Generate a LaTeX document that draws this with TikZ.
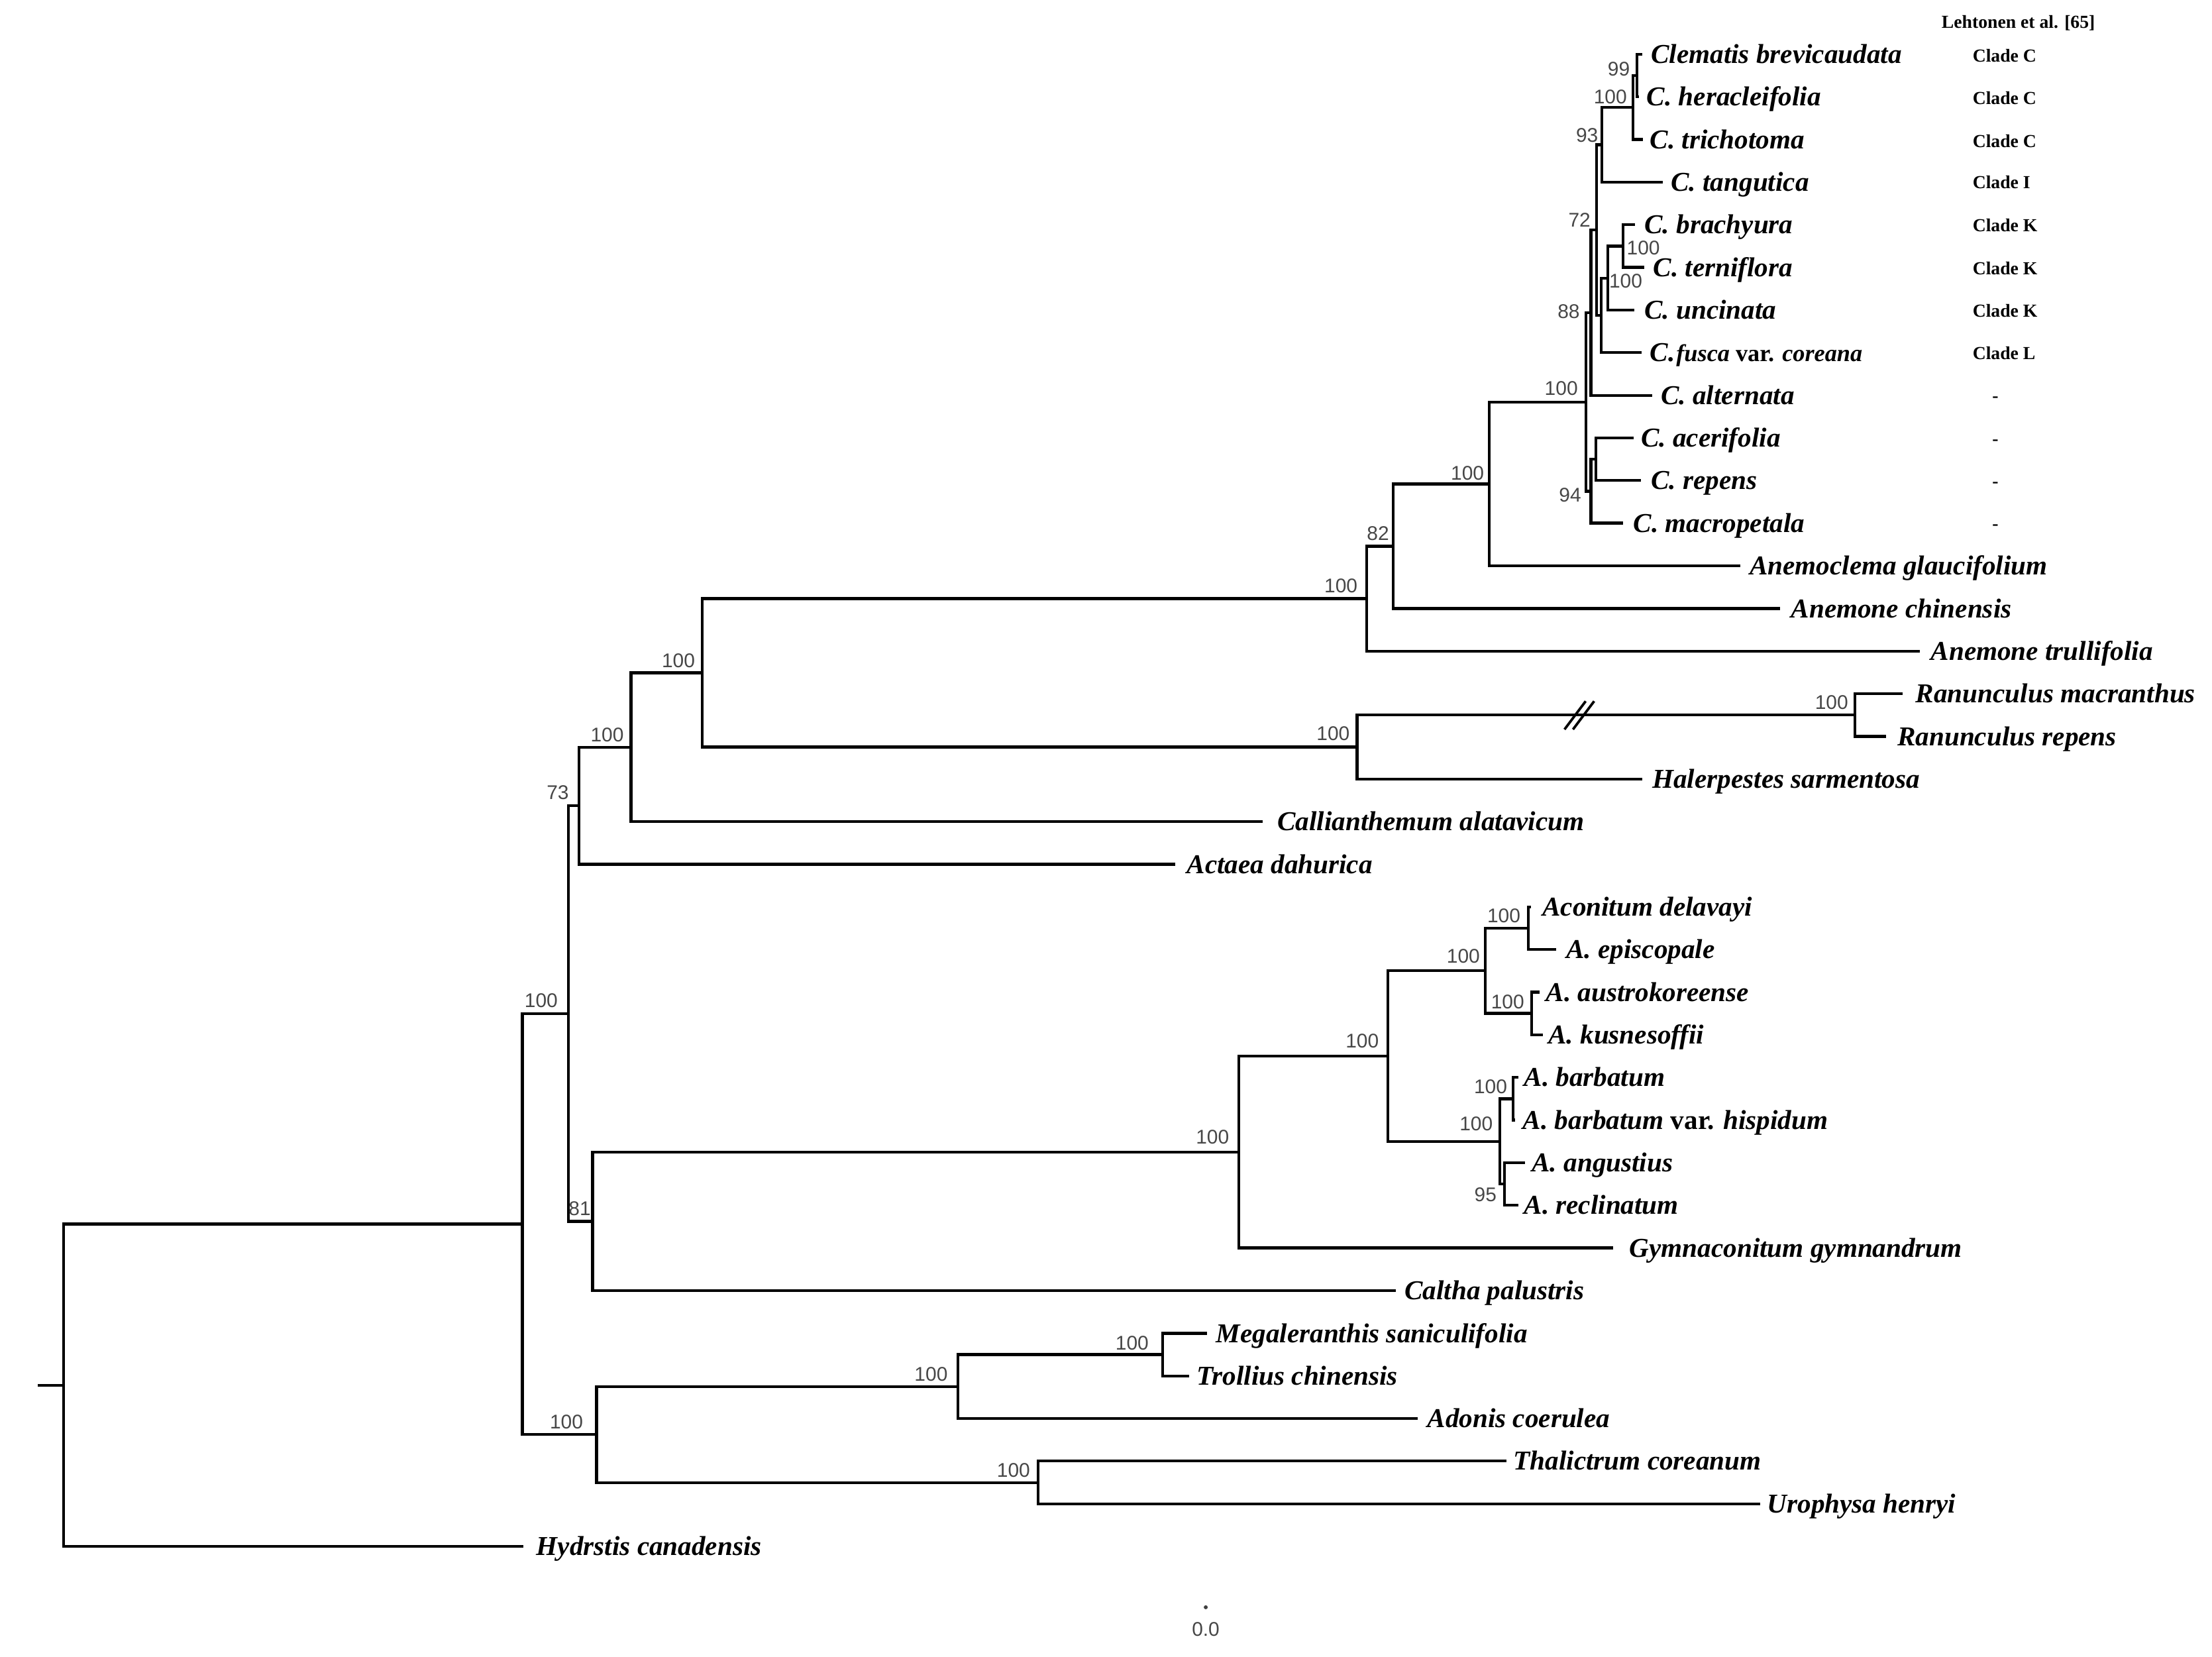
\documentclass[tikz,border=0pt]{standalone}
\usepackage{fontspec}
\setmainfont{Liberation Serif}
\newfontfamily\bsfont{Liberation Sans}
\begin{document}
\begin{tikzpicture}[x=0.02cm, y=-0.02cm,
  br/.style={line width=1.15pt, line cap=rect},
  sp/.style={anchor=west, inner sep=0pt, font=\fontsize{11pt}{13pt}\selectfont\bfseries\itshape, text height=7.3pt, text depth=0pt},
  bs/.style={inner sep=0pt, font=\bsfont\fontsize{8pt}{9pt}\selectfont, text=black!72, text height=5.73pt, text depth=0pt},
  cl/.style={anchor=west, inner sep=0pt, font=\fontsize{7.4pt}{9pt}\selectfont\bfseries, text height=4.9pt, text depth=0pt},
  brk/.style={line width=1pt}]
\useasboundingbox (0,0) rectangle (1568,1174);
% internal nodes
\coordinate (root) at (45, 981.9);
\coordinate (r0) at (28, 981.9);
\coordinate (A) at (370.3, 867.6);
\coordinate (B) at (402.8, 718.4);
\coordinate (C) at (410.5, 571.1);
\coordinate (D) at (447.3, 529.6);
\coordinate (E) at (497.8, 476.9);
\coordinate (F) at (968.8, 424.3);
\coordinate (K) at (987.7, 387.2);
\coordinate (L) at (1055.5, 343);
\coordinate (M) at (1124.3, 284.9);
\coordinate (O) at (1127.8, 221.6);
\coordinate (P) at (1131.7, 163.1);
\coordinate (R) at (1135.6, 102.6);
\coordinate (S) at (1157.6, 76.2);
\coordinate (T) at (1160.3, 53.5);
\coordinate (Q) at (1134.9, 223.5);
\coordinate (U) at (1139.8, 197.1);
\coordinate (V) at (1150.5, 174.4);
\coordinate (N) at (1127.8, 348.2);
\coordinate (W) at (1131.4, 325.5);
\coordinate (G) at (962, 529.5);
\coordinate (X) at (1315, 506.8);
\coordinate (H) at (420, 865.7);
\coordinate (I) at (878, 816.5);
\coordinate (J) at (983.8, 748.6);
\coordinate (Y) at (1052.8, 688.1);
\coordinate (AA) at (1083.5, 657.9);
\coordinate (AB) at (1085.6, 718.3);
\coordinate (Z) at (1063.3, 809);
\coordinate (AC) at (1072.5, 778.8);
\coordinate (AD) at (1066.5, 839.2);
\coordinate (AE) at (824, 960.1);
\coordinate (AF) at (678.9, 982.8);
\coordinate (AG) at (735.8, 1050.8);
\coordinate (AH) at (422.8, 1016.8);
% tips
\coordinate (t1) at (1163, 38.4);
\coordinate (t2) at (1161, 68.6);
\coordinate (t3) at (1163.8, 98.8);
\coordinate (t4) at (1177.9, 129.1);
\coordinate (t5) at (1158, 159.3);
\coordinate (t6) at (1164.6, 189.5);
\coordinate (t7) at (1157.6, 219.7);
\coordinate (t8) at (1162.8, 249.9);
\coordinate (t9) at (1170, 280.2);
\coordinate (t10) at (1156.8, 310.4);
\coordinate (t11) at (1162.2, 340.6);
\coordinate (t12) at (1149.3, 370.8);
\coordinate (t13) at (1232.7, 401.0);
\coordinate (t14) at (1261, 431.3);
\coordinate (t15) at (1359.8, 461.5);
\coordinate (t16) at (1347.7, 491.7);
\coordinate (t17) at (1336, 521.9);
\coordinate (t18) at (1163, 552.1);
\coordinate (t19) at (894, 582.4);
\coordinate (t20) at (832, 612.6);
\coordinate (t21) at (1084, 642.8);
\coordinate (t22) at (1102, 673.0);
\coordinate (t23) at (1090.3, 703.2);
\coordinate (t24) at (1092.6, 733.4);
\coordinate (t25) at (1075.4, 763.7);
\coordinate (t26) at (1073, 793.9);
\coordinate (t27) at (1080, 824.1);
\coordinate (t28) at (1075.4, 854.3);
\coordinate (t29) at (1142.6, 884.5);
\coordinate (t30) at (988.3, 914.8);
\coordinate (t31) at (854.8, 945.0);
\coordinate (t32) at (842, 975.2);
\coordinate (t33) at (1004, 1005.4);
\coordinate (t34) at (1066.7, 1035.6);
\coordinate (t35) at (1246.6, 1065.9);
\coordinate (t36) at (370, 1096.1);
% branches
\draw[br] (r0) -- (root);
\draw[br] (root) |- (A); \draw[br] (root) |- (t36);
\draw[br] (A) |- (B); \draw[br] (A) |- (AH);
\draw[br] (B) |- (C); \draw[br] (B) |- (H);
\draw[br] (C) |- (D); \draw[br] (C) |- (t20);
\draw[br] (D) |- (E); \draw[br] (D) |- (t19);
\draw[br] (E) |- (F); \draw[br] (E) |- (G);
\draw[br] (F) |- (K); \draw[br] (F) |- (t15);
\draw[br] (K) |- (L); \draw[br] (K) |- (t14);
\draw[br] (L) |- (M); \draw[br] (L) |- (t13);
\draw[br] (M) |- (O); \draw[br] (M) |- (N);
\draw[br] (O) |- (P); \draw[br] (O) |- (t9);
\draw[br] (P) |- (R); \draw[br] (P) |- (Q);
\draw[br] (R) |- (S); \draw[br] (R) |- (t4);
\draw[br] (S) |- (T); \draw[br] (S) |- (t3);
\draw[br] (T) |- (t1); \draw[br] (T) |- (t2);
\draw[br] (Q) |- (U); \draw[br] (Q) |- (t8);
\draw[br] (U) |- (V); \draw[br] (U) |- (t7);
\draw[br] (V) |- (t5); \draw[br] (V) |- (t6);
\draw[br] (N) |- (W); \draw[br] (N) |- (t12);
\draw[br] (W) |- (t10); \draw[br] (W) |- (t11);
\draw[br] (G) |- (X); \draw[br] (G) |- (t18);
\draw[br] (X) |- (t16); \draw[br] (X) |- (t17);
\draw[br] (H) |- (I); \draw[br] (H) |- (t30);
\draw[br] (I) |- (J); \draw[br] (I) |- (t29);
\draw[br] (J) |- (Y); \draw[br] (J) |- (Z);
\draw[br] (Y) |- (AA); \draw[br] (Y) |- (AB);
\draw[br] (AA) |- (t21); \draw[br] (AA) |- (t22);
\draw[br] (AB) |- (t23); \draw[br] (AB) |- (t24);
\draw[br] (Z) |- (AC); \draw[br] (Z) |- (AD);
\draw[br] (AC) |- (t25); \draw[br] (AC) |- (t26);
\draw[br] (AD) |- (t27); \draw[br] (AD) |- (t28);
\draw[br] (AH) |- (AF); \draw[br] (AH) |- (AG);
\draw[br] (AF) |- (AE); \draw[br] (AF) |- (t33);
\draw[br] (AE) |- (t31); \draw[br] (AE) |- (t32);
\draw[br] (AG) |- (t34); \draw[br] (AG) |- (t35);
% break marks
\draw[brk] (1109,517) -- (1124,497);
\draw[brk] (1115,517) -- (1130,497);
% species labels
\node[sp] (l1) at (1170, 38.4) {Clematis brevicaudata};
\node[sp] (l2) at (1167, 68.6) {C. heracleifolia};
\node[sp] (l3) at (1169.3, 98.8) {C. trichotoma};
\node[sp] (l4) at (1184.2, 129.1) {C. tangutica};
\node[sp] (l5) at (1165.4, 159.3) {C. brachyura};
\node[sp] (l6) at (1171.6, 189.5) {C. terniflora};
\node[sp] (l7) at (1165.4, 219.7) {C. uncinata};
\node[sp] (l8) at (1169.3, 249.9) {C.\kern0.5pt{\fontsize{9.7pt}{11pt}\selectfont fusca \textup{var.} coreana}};
\node[sp] (l9) at (1177.1, 280.2) {C. alternata};
\node[sp] (l10) at (1163, 310.4) {C. acerifolia};
\node[sp] (l11) at (1170.1, 340.6) {C. repens};
\node[sp] (l12) at (1157.6, 370.8) {C. macropetala};
\node[sp] (l13) at (1240, 401.0) {Anemoclema glaucifolium};
\node[sp] (l14) at (1269.3, 431.3) {Anemone chinensis};
\node[sp] (l15) at (1368.4, 461.5) {Anemone trullifolia};
\node[sp] (l16) at (1357.7, 491.7) {Ranunculus macranthus};
\node[sp] (l17) at (1344.7, 521.9) {Ranunculus repens};
\node[sp] (l18) at (1171, 552.1) {Halerpestes sarmentosa};
\node[sp] (l19) at (905.2, 582.4) {Callianthemum alatavicum};
\node[sp] (l20) at (841, 612.6) {Actaea dahurica};
\node[sp] (l21) at (1093, 642.8) {Aconitum delavayi};
\node[sp] (l22) at (1110, 673.0) {A. episcopale};
\node[sp] (l23) at (1095.5, 703.2) {A. austrokoreense};
\node[sp] (l24) at (1097.3, 733.4) {A. kusnesoffii};
\node[sp] (l25) at (1080, 763.7) {A. barbatum};
\node[sp] (l26) at (1079.2, 793.9) {A. barbatum \textup{var.} hispidum};
\node[sp] (l27) at (1085.6, 824.1) {A. angustius};
\node[sp] (l28) at (1080, 854.3) {A. reclinatum};
\node[sp] (l29) at (1154.8, 884.5) {Gymnaconitum gymnandrum};
\node[sp] (l30) at (995.3, 914.8) {Caltha palustris};
\node[sp] (l31) at (861.7, 945.0) {Megaleranthis saniculifolia};
\node[sp] (l32) at (847.8, 975.2) {Trollius chinensis};
\node[sp] (l33) at (1011.5, 1005.4) {Adonis coerulea};
\node[sp] (l34) at (1072.5, 1035.6) {Thalictrum coreanum};
\node[sp] (l35) at (1252.4, 1065.9) {Urophysa henryi};
\node[sp] (l36) at (380, 1096.1) {Hydrstis canadensis};
% clade column
\node[cl] (hd) at (1376, 15.8) {Lehtonen et al. [65]};
\node[cl] (c1) at (1398, 39.5) {Clade C};
\node[cl] (c2) at (1398, 69.5) {Clade C};
\node[cl] (c3) at (1398, 100) {Clade C};
\node[cl] (c4) at (1398, 129.5) {Clade I};
\node[cl] (c5) at (1398, 159.8) {Clade K};
\node[cl] (c6) at (1398, 190.5) {Clade K};
\node[cl] (c7) at (1398, 220.5) {Clade K};
\node[cl] (c8) at (1398, 250.5) {Clade L};
\node[cl, anchor=center] (c9) at (1414.4, 280.6) {-};
\node[cl, anchor=center] (c10) at (1414.4, 310.8) {-};
\node[cl, anchor=center] (c11) at (1414.4, 341) {-};
\node[cl, anchor=center] (c12) at (1414.4, 371.2) {-};
% bootstrap values
\node[bs] (bT) at (1147.5, 48.9) {99};
\node[bs] (bS) at (1141.5, 68.5) {100};
\node[bs] (bR) at (1125, 95.9) {93};
\node[bs] (bP) at (1119.6, 155.7) {72};
\node[bs] (bV) at (1164.9, 175.3) {100};
\node[bs] (bU) at (1152.4, 198.8) {100};
\node[bs] (bO) at (1112, 220.7) {88};
\node[bs] (bM) at (1106.7, 275.1) {100};
\node[bs] (bN) at (1113, 350.6) {94};
\node[bs] (bL) at (1040.2, 335) {100};
\node[bs] (bK) at (976.8, 378) {82};
\node[bs] (bF) at (950.5, 414.8) {100};
\node[bs] (bX) at (1298.3, 497.8) {100};
\node[bs] (bG) at (945, 519.7) {100};
\node[bs] (bE) at (480.9, 468.3) {100};
\node[bs] (bD) at (430.4, 520.5) {100};
\node[bs] (bC) at (395.4, 561.4) {73};
\node[bs] (bB) at (383.6, 709) {100};
\node[bs] (bH) at (410.9, 856.4) {81};
\node[bs] (bI) at (859.5, 805.9) {100};
\node[bs] (bJ) at (965.6, 737.7) {100};
\node[bs] (bY) at (1037.3, 677.4) {100};
\node[bs] (bAA) at (1066, 649) {100};
\node[bs] (bAB) at (1068.7, 709.7) {100};
\node[bs] (bAC) at (1056.6, 769.8) {100};
\node[bs] (bZ) at (1046.4, 796.2) {100};
\node[bs] (bAD) at (1053, 846.8) {95};
\node[bs] (bAE) at (802.5, 951.7) {100};
\node[bs] (bAF) at (660, 974) {100};
\node[bs] (bAG) at (718.4, 1041.7) {100};
\node[bs] (bAH) at (401.5, 1007.6) {100};
% scale
\fill[black!75] (854.7, 1139.2) circle (1.4);
\node[bs] (scl) at (854.7, 1154.8) {0.0};
\end{tikzpicture}
\end{document}
